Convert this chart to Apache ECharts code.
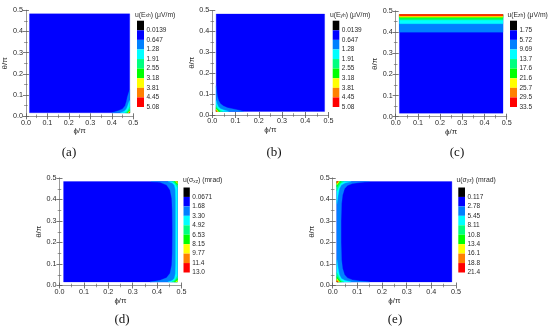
<!DOCTYPE html>
<html><head><meta charset="utf-8">
<script src="https://cdn.jsdelivr.net/npm/echarts@6/dist/echarts.min.js"></script>
<style>html,body{margin:0;padding:0;background:#fff}#c{width:550px;height:330px}</style>
</head><body><div id="c"></div>
<script>
// ---------- data ----------
const levelColors = ['#000000','#0000FF','#0080FF','#00FFFF','#00FF80','#00FF00','#FFFF00','#FF8000','#FF0000'];
const tickValues = [0, 0.1, 0.2, 0.3, 0.4, 0.5];
const dMin = 0.0167, dMax = 0.4833;
const fullDomain = [[dMin,dMin],[dMax,dMin],[dMax,dMax],[dMin,dMax]];

const labelsA = ['0.0139','0.647','1.28','1.91','2.55','3.18','3.81','4.45','5.08'];
const labelsB = ['0.0139','0.647','1.28','1.91','2.55','3.18','3.81','4.45','5.08'];
const labelsC = ['1.75','5.72','9.69','13.7','17.6','21.6','25.7','29.5','33.5'];
const labelsD = ['0.0671','1.68','3.30','4.92','6.53','8.15','9.77','11.4','13.0'];
const labelsE = ['0.117','2.78','5.45','8.11','10.8','13.4','16.1','18.8','21.4'];

// contour regions: [level index, polygon in (phi/pi, theta/pi)]
const regionsA = [
  [1, fullDomain],
  [2, [[0.40,0.0167],[0.43,0.026],[0.45,0.035],[0.462,0.05],[0.468,0.07],[0.472,0.09],[0.478,0.11],[0.4833,0.125],[0.4833,0.0167]]],
  [3, [[0.44,0.0167],[0.458,0.024],[0.468,0.034],[0.474,0.05],[0.479,0.065],[0.4833,0.075],[0.4833,0.0167]]],
  [4, [[0.462,0.0167],[0.472,0.024],[0.478,0.035],[0.4833,0.045],[0.4833,0.0167]]],
  [5, [[0.47,0.0167],[0.478,0.024],[0.4833,0.032],[0.4833,0.0167]]],
  [6, [[0.475,0.0167],[0.4833,0.026],[0.4833,0.0167]]],
  [7, [[0.478,0.0167],[0.4833,0.022],[0.4833,0.0167]]],
  [8, [[0.48,0.0167],[0.4833,0.0195],[0.4833,0.0167]]]
];
const regionsB = [
  [1, fullDomain],
  [2, [[0.0167,0.14],[0.019,0.115],[0.022,0.09],[0.027,0.07],[0.035,0.054],[0.048,0.043],[0.065,0.035],[0.09,0.029],[0.115,0.023],[0.135,0.0167],[0.0167,0.0167]]],
  [3, [[0.0167,0.07],[0.02,0.055],[0.026,0.04],[0.035,0.03],[0.05,0.024],[0.07,0.0167],[0.0167,0.0167]]],
  [4, [[0.0167,0.045],[0.022,0.033],[0.03,0.025],[0.045,0.0167],[0.0167,0.0167]]],
  [5, [[0.0167,0.035],[0.024,0.025],[0.034,0.0167],[0.0167,0.0167]]],
  [6, [[0.0167,0.028],[0.027,0.0167],[0.0167,0.0167]]],
  [7, [[0.0167,0.024],[0.022,0.0167],[0.0167,0.0167]]],
  [8, [[0.0167,0.021],[0.0195,0.0167],[0.0167,0.0167]]]
];
const bandsC = [0.40, 0.44, 0.457, 0.466, 0.471, 0.475, 0.479]; // lower theta edge of levels 2..8
const regionsD = [
  [1, fullDomain],
  [2, [[0.375,0.4833],[0.412,0.48],[0.439,0.467],[0.453,0.444],[0.46,0.405],[0.462,0.35],[0.463,0.25],[0.462,0.15],[0.46,0.095],[0.453,0.057],[0.439,0.036],[0.412,0.024],[0.371,0.0167],[0.4833,0.0167],[0.4833,0.4833]]],
  [3, [[0.445,0.4833],[0.462,0.477],[0.471,0.466],[0.475,0.445],[0.476,0.40],[0.476,0.10],[0.475,0.055],[0.471,0.034],[0.462,0.023],[0.445,0.0167],[0.4833,0.0167],[0.4833,0.4833]]],
  [4, [[0.462,0.4833],[0.472,0.476],[0.478,0.466],[0.4833,0.455],[0.4833,0.4833]]],
  [4, [[0.46,0.0167],[0.472,0.024],[0.478,0.034],[0.4833,0.045],[0.4833,0.0167]]],
  [5, [[0.47,0.4833],[0.478,0.476],[0.4833,0.468],[0.4833,0.4833]]],
  [5, [[0.47,0.0167],[0.478,0.024],[0.4833,0.032],[0.4833,0.0167]]],
  [6, [[0.475,0.4833],[0.4833,0.474],[0.4833,0.4833]]],
  [6, [[0.476,0.0167],[0.4833,0.025],[0.4833,0.0167]]],
  [7, [[0.479,0.4833],[0.4833,0.479],[0.4833,0.4833]]]
];
const regionsE = [
  [1, fullDomain],
  [2, [[0.15,0.4833],[0.11,0.479],[0.08,0.474],[0.06,0.465],[0.048,0.45],[0.04,0.42],[0.036,0.38],[0.034,0.30],[0.034,0.20],[0.036,0.12],[0.04,0.08],[0.048,0.05],[0.06,0.035],[0.08,0.026],[0.11,0.021],[0.15,0.0167],[0.0167,0.0167],[0.0167,0.4833]]],
  [3, [[0.075,0.4833],[0.05,0.477],[0.035,0.467],[0.027,0.45],[0.022,0.42],[0.0167,0.38],[0.0167,0.4833]]],
  [3, [[0.075,0.0167],[0.05,0.023],[0.035,0.033],[0.027,0.05],[0.022,0.08],[0.0167,0.12],[0.0167,0.0167]]],
  [4, [[0.045,0.4833],[0.032,0.475],[0.025,0.46],[0.0167,0.44],[0.0167,0.4833]]],
  [4, [[0.045,0.0167],[0.032,0.025],[0.025,0.04],[0.0167,0.06],[0.0167,0.0167]]],
  [5, [[0.035,0.4833],[0.026,0.474],[0.0167,0.458],[0.0167,0.4833]]],
  [5, [[0.035,0.0167],[0.026,0.026],[0.0167,0.042],[0.0167,0.0167]]],
  [6, [[0.028,0.4833],[0.0167,0.468],[0.0167,0.4833]]],
  [6, [[0.028,0.0167],[0.0167,0.032],[0.0167,0.0167]]],
  [7, [[0.024,0.4833],[0.0167,0.474],[0.0167,0.4833]]],
  [7, [[0.024,0.0167],[0.0167,0.026],[0.0167,0.0167]]],
  [8, [[0.021,0.4833],[0.0167,0.478],[0.0167,0.4833]]],
  [8, [[0.021,0.0167],[0.0167,0.021],[0.0167,0.0167]]]
];
const regionsC = [[1, fullDomain]].concat(bandsC.map((lo, i) => [i + 2, [[dMin,lo],[dMax,lo],[dMax,dMax],[dMin,dMax]]]));

const titleParts = [['E','xh','μV/m'],['E','yh','μV/m'],['E','zh','μV/m'],['σ','xz','mrad'],['σ','yz','mrad']];
const letters = ['(a)','(b)','(c)','(d)','(e)'];

// ---------- layout (pixels) ----------
const layouts = [
  {grid:[22.3,10.3,111,106],   bar:[137,20.7,7,86.3],   title:[135,16.5],   letter:[69,153]},
  {grid:[212.3,10.5,116.2,104.5], bar:[332.7,20.7,6.6,86.3], title:[330,16.5], letter:[274,153]},
  {grid:[395.7,11,111,105.7],  bar:[510,20.7,7,86.3],   title:[507.5,16.5], letter:[457,153]},
  {grid:[59.5,178,122,107.5],  bar:[183.5,187.5,6.3,85], title:[183,182],   letter:[122,320]},
  {grid:[332.7,178,123.3,107.5], bar:[458.3,187.5,6.7,85], title:[456.5,181.5], letter:[395,320]}
];

const panels = [
  {regions: regionsA, labels: labelsA},
  {regions: regionsB, labels: labelsB},
  {regions: regionsC, labels: labelsC},
  {regions: regionsD, labels: labelsD},
  {regions: regionsE, labels: labelsE}
];

const grid = [], xAxis = [], yAxis = [], series = [], graphic = [];
const frameColor = '#9a9a9a', tickColor = '#555', txt = '#2a2a2a';
const tickFmt = v => v.toFixed(1);

panels.forEach((p, k) => {
  const L = layouts[k];
  const gi = grid.length;
  grid.push({left: L.grid[0], top: L.grid[1], width: L.grid[2], height: L.grid[3], containLabel: false});
  const common = {gridIndex: gi, type: 'value', min: tickValues[0], max: tickValues[tickValues.length-1], interval: 0.1,
    splitLine: {show: false},
    axisLine: {show: true, lineStyle: {color: frameColor, width: 1}},
    axisTick: {show: true, inside: true, length: 3, lineStyle: {color: tickColor, width: 0.8}},
    minorTick: {show: true, splitNumber: 2, length: 1.8, lineStyle: {color: tickColor, width: 0.6}}};
  const xi = xAxis.length;
  xAxis.push(Object.assign({}, common, {position: 'bottom',
    axisLabel: {fontSize: 7.2, margin: 3, color: txt, fontFamily: 'Liberation Sans', formatter: tickFmt},
    name: 'ϕ/π', nameLocation: 'middle', nameGap: 9, nameTextStyle: {fontSize: 8, color: txt, fontFamily: 'Liberation Sans'}}));
  xAxis.push(Object.assign({}, common, {position: 'top', axisLabel: {show: false}}));
  const yi = yAxis.length;
  yAxis.push(Object.assign({}, common, {position: 'left',
    axisLabel: {fontSize: 7.2, margin: 3, color: txt, fontFamily: 'Liberation Sans', formatter: tickFmt},
    name: 'θ/π', nameLocation: 'middle', nameGap: 15, nameTextStyle: {fontSize: 8, color: txt, fontFamily: 'Liberation Sans'}}));
  yAxis.push(Object.assign({}, common, {position: 'right', axisLabel: {show: false}}));

  const regs = p.regions;
  series.push({type: 'custom', coordinateSystem: 'cartesian2d', xAxisIndex: xi, yAxisIndex: yi, clip: true, silent: true,
    data: regs.map((r, i) => [i]), encode: {x: -1, y: -1},
    renderItem: (params, api) => {
      const r = regs[params.dataIndex];
      return {type: 'polygon', shape: {points: r[1].map(pt => api.coord(pt))},
        style: {fill: levelColors[r[0]], stroke: levelColors[r[0]], lineWidth: 0.3}};
    }});

  // colorbar
  const bi = grid.length;
  grid.push({left: L.bar[0], top: L.bar[1], width: L.bar[2], height: L.bar[3]});
  const bxi = xAxis.length, byi = yAxis.length;
  xAxis.push({gridIndex: bi, type: 'value', min: 0, max: 1, show: false});
  const labs = p.labels;
  yAxis.push({gridIndex: bi, type: 'value', min: 0, max: labs.length, interval: 1, inverse: true, position: 'right',
    axisLine: {show: false}, axisTick: {show: false}, splitLine: {show: false},
    axisLabel: {fontSize: 6.5, margin: 2.5, color: txt, fontFamily: 'Liberation Sans',
      formatter: v => (v >= 1 ? labs[Math.round(v) - 1] : '')}});
  series.push({type: 'custom', coordinateSystem: 'cartesian2d', xAxisIndex: bxi, yAxisIndex: byi, silent: true,
    data: labs.map((_, i) => [i]), encode: {x: -1, y: -1},
    renderItem: (params, api) => {
      const i = params.dataIndex;
      const a = api.coord([0, i]), b = api.coord([1, i + 1]);
      return {type: 'rect', shape: {x: a[0], y: Math.min(a[1], b[1]), width: b[0] - a[0], height: Math.abs(b[1] - a[1])},
        style: {fill: levelColors[i]}};
    }});

  const tp = titleParts[k];
  graphic.push({type: 'text', left: L.title[0], top: L.title[1] - 5, z: 10,
    style: {text: '{n|u(' + tp[0] + '}{s|' + tp[1] + '}{n|) (' + tp[2] + ')}',
      rich: {n: {fontSize: 6.8, fill: txt, fontFamily: 'Liberation Sans', lineHeight: 9, verticalAlign: 'bottom'},
             s: {fontSize: 4.8, fill: txt, fontFamily: 'Liberation Sans', lineHeight: 7, verticalAlign: 'bottom'}}}});
  graphic.push({type: 'text', x: L.letter[0], y: L.letter[1], z: 10,
    style: {text: letters[k], fontSize: 13, fontFamily: 'Liberation Serif', fill: '#111', align: 'center', verticalAlign: 'middle'}});
});

const chart = echarts.init(document.getElementById('c'), null, {renderer: 'canvas'});
chart.setOption({animation: false, backgroundColor: '#fff', grid, xAxis, yAxis, series, graphic});
</script></body></html>
